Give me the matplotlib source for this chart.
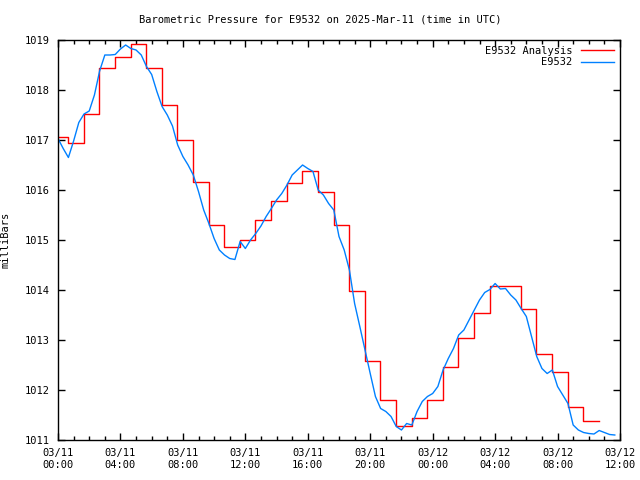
import pandas as pd
import matplotlib
matplotlib.use("Agg")
import matplotlib.pyplot as plt
import matplotlib.dates as mdates

# hourly analysis, drawn as steps (first segment starts at 00:00)
analysis_start = ["2025-03-11 00:00"]
analysis_hourly = pd.date_range("2025-03-11 00:39", periods=35, freq="h")
analysis_vals = [1017.07, 1016.95, 1017.52, 1018.45, 1018.67, 1018.93, 1018.45,
                 1017.71, 1017.01, 1016.16, 1015.31, 1014.86, 1015.00, 1015.41,
                 1015.78, 1016.14, 1016.39, 1015.97, 1015.31, 1013.99, 1012.59,
                 1011.80, 1011.29, 1011.45, 1011.81, 1012.47, 1013.05, 1013.55,
                 1014.09, 1014.08, 1013.63, 1012.73, 1012.37, 1011.67, 1011.38]

# station obs, every 20 minutes
obs_times = pd.date_range("2025-03-11 00:00", periods=108, freq="20min")
obs_vals = [1017.03, 1016.83, 1016.65, 1016.98, 1017.35, 1017.52, 1017.58, 1017.90,
            1018.38, 1018.70, 1018.70, 1018.71, 1018.82, 1018.90, 1018.83, 1018.80,
            1018.70, 1018.47, 1018.31, 1017.97, 1017.67, 1017.50, 1017.28, 1016.90,
            1016.67, 1016.50, 1016.30, 1015.97, 1015.60, 1015.33, 1015.03, 1014.80,
            1014.70, 1014.63, 1014.61, 1014.97, 1014.83, 1015.00, 1015.13, 1015.28,
            1015.47, 1015.63, 1015.80, 1015.93, 1016.10, 1016.30, 1016.40, 1016.50,
            1016.43, 1016.37, 1016.00, 1015.90, 1015.73, 1015.60, 1015.07, 1014.80,
            1014.40, 1013.73, 1013.27, 1012.80, 1012.33, 1011.87, 1011.63, 1011.57,
            1011.47, 1011.27, 1011.20, 1011.33, 1011.30, 1011.57, 1011.77, 1011.87,
            1011.93, 1012.07, 1012.40, 1012.63, 1012.83, 1013.10, 1013.20, 1013.40,
            1013.60, 1013.80, 1013.95, 1014.01, 1014.13, 1014.02, 1014.03, 1013.90,
            1013.80, 1013.63, 1013.47, 1013.07, 1012.67, 1012.43, 1012.33, 1012.40,
            1012.07, 1011.90, 1011.73, 1011.30, 1011.20, 1011.15, 1011.13, 1011.12,
            1011.19, 1011.15, 1011.11, 1011.10]

yticks = [1011, 1012, 1013, 1014, 1015, 1016, 1017, 1018, 1019]

plt.rcParams["font.family"] = "DejaVu Sans Mono"
plt.rcParams["font.size"] = 7.5

fig = plt.figure(figsize=(6.4, 4.8), dpi=100)
ax = fig.add_axes([58 / 640, 40 / 480, 562 / 640, 400 / 480])

step_x = pd.to_datetime(analysis_start + list(analysis_hourly))
step_y = analysis_vals + [analysis_vals[-1]]
ax.plot(step_x, step_y, drawstyle="steps-post", color="#ff0000", lw=1.0,
        label="E9532 Analysis")
ax.plot(obs_times, obs_vals, color="#0080ff", lw=1.0, label="E9532")

ax.set_xlim(pd.Timestamp("2025-03-11 00:00"), pd.Timestamp("2025-03-12 12:00"))
ax.set_ylim(1011, 1019)
ax.set_yticks(yticks)
ax.xaxis.set_major_locator(mdates.HourLocator(byhour=range(0, 24, 4)))
ax.xaxis.set_minor_locator(mdates.HourLocator())
ax.xaxis.set_major_formatter(mdates.DateFormatter("%m/%d\n%H:%M"))

ax.tick_params(which="both", direction="in", top=True, right=True, width=1)
ax.tick_params(which="major", length=5, pad=6)
ax.tick_params(which="minor", length=3)
for s in ax.spines.values():
    s.set_linewidth(1.0)

ax.set_ylabel("milliBars", labelpad=10)
fig.text(0.5, 1 - 20 / 480, "Barometric Pressure for E9532 on 2025-Mar-11 (time in UTC)",
         ha="center", va="center")
ax.legend(loc="upper right", frameon=False, markerfirst=False, handlelength=3.2,
          borderaxespad=0.15, labelspacing=0.15)

fig.savefig("out.png", dpi=100)
